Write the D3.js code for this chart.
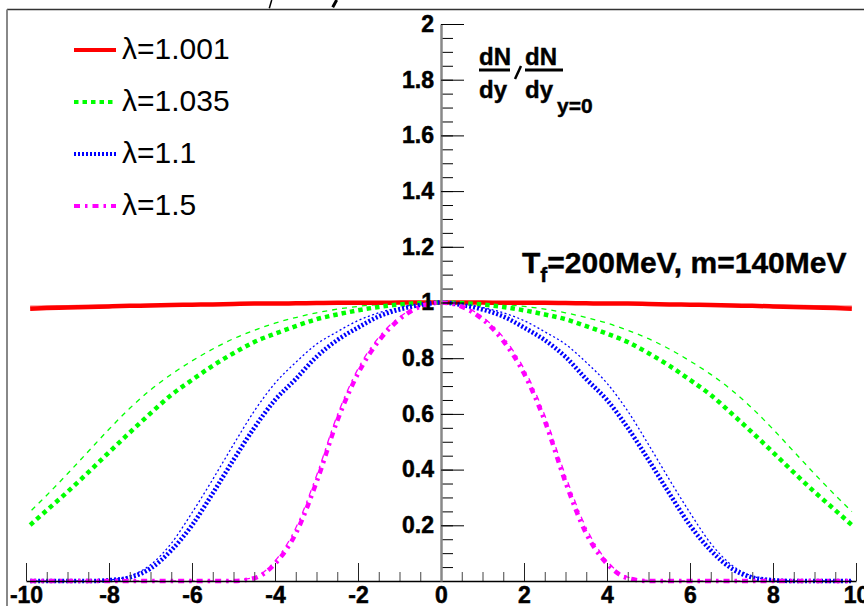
<!DOCTYPE html>
<html>
<head>
<meta charset="utf-8">
<script src="https://cdn.jsdelivr.net/npm/d3@7"></script>
<style>
  body { margin: 0; background: #fff; }
  svg { display: block; font-family: "Liberation Sans", Arial, sans-serif; }
  .tick text { font-family: "Liberation Sans", Arial, sans-serif; font-weight: bold; fill: #000; stroke: #000; stroke-width: 0.5px; }
  .heavy { stroke: #000; stroke-width: 0.4px; }
</style>
</head>
<body>
<svg width="864" height="606"></svg>
<script>
// rapidity points (curves drawn from -9.9 to 9.9)
const ys = [-9.9, -9.5, -9, -8.5, -8, -7.5, -7, -6.5, -6, -5.5, -5, -4.5, -4, -3.5, -3, -2.5, -2, -1.5, -1, -0.5,
    0, 0.5, 1, 1.5, 2, 2.5, 3, 3.5, 4, 4.5, 5, 5.5, 6, 6.5, 7, 7.5, 8, 8.5, 9, 9.5, 9.9];

const lambdas = ["1.001", "1.035", "1.1", "1.5"];

// thick curves
const red1 = [0.978, 0.980, 0.982, 0.984, 0.986, 0.988, 0.989, 0.991, 0.992, 0.993, 0.995, 0.996, 0.996, 0.997, 0.998, 0.999, 0.999, 0.999, 1, 1,
    1, 1, 1, 0.999, 0.999, 0.999, 0.998, 0.997, 0.996, 0.996, 0.995, 0.993, 0.992, 0.991, 0.989, 0.988, 0.986, 0.984, 0.982, 0.980, 0.978];
const green1 = [0.201, 0.254, 0.32, 0.39, 0.462, 0.533, 0.602, 0.668, 0.722, 0.773, 0.818, 0.858, 0.888, 0.915, 0.94, 0.957, 0.972, 0.984, 0.993, 0.998,
    1, 0.998, 0.993, 0.984, 0.972, 0.957, 0.94, 0.915, 0.888, 0.858, 0.818, 0.773, 0.722, 0.668, 0.602, 0.533, 0.462, 0.39, 0.32, 0.254, 0.201];
const blue1 = [0, 0, 0, 0, 0.003, 0.013, 0.045, 0.11, 0.2, 0.315, 0.435, 0.55, 0.65, 0.725, 0.805, 0.865, 0.91, 0.95, 0.975, 0.991,
    1, 0.991, 0.975, 0.95, 0.91, 0.865, 0.805, 0.725, 0.65, 0.55, 0.435, 0.315, 0.2, 0.11, 0.045, 0.013, 0.003, 0, 0, 0, 0];
const magenta1 = [0, 0, 0, 0, 0, 0, 0, 0, 0, 0, 0, 0.01, 0.062, 0.17, 0.355, 0.575, 0.745, 0.862, 0.94, 0.985,
    1, 0.985, 0.94, 0.862, 0.745, 0.575, 0.355, 0.17, 0.062, 0.01, 0, 0, 0, 0, 0, 0, 0, 0, 0, 0, 0];

// thin curves
const red2 = [0.987, 0.988, 0.989, 0.990, 0.991, 0.992, 0.993, 0.994, 0.995, 0.996, 0.997, 0.997, 0.998, 0.998, 0.999, 0.999, 1, 1, 1, 1,
    1, 1, 1, 1, 1, 0.999, 0.999, 0.998, 0.998, 0.997, 0.997, 0.996, 0.995, 0.994, 0.993, 0.992, 0.991, 0.990, 0.989, 0.988, 0.987];
const green2 = [0.249, 0.308, 0.385, 0.465, 0.545, 0.62, 0.686, 0.742, 0.79, 0.833, 0.87, 0.9, 0.926, 0.946, 0.963, 0.976, 0.986, 0.993, 0.997, 0.999,
    1, 0.999, 0.997, 0.993, 0.986, 0.976, 0.963, 0.946, 0.926, 0.9, 0.87, 0.833, 0.79, 0.742, 0.686, 0.62, 0.545, 0.465, 0.385, 0.308, 0.249];
const blue2 = [0, 0, 0, 0, 0.004, 0.018, 0.058, 0.135, 0.245, 0.365, 0.49, 0.61, 0.71, 0.785, 0.85, 0.895, 0.935, 0.963, 0.982, 0.995,
    1, 0.995, 0.982, 0.963, 0.935, 0.895, 0.85, 0.785, 0.71, 0.61, 0.49, 0.365, 0.245, 0.135, 0.058, 0.018, 0.004, 0, 0, 0, 0];
const magenta2 = [0, 0, 0, 0, 0, 0, 0, 0, 0, 0, 0.002, 0.014, 0.072, 0.19, 0.378, 0.595, 0.762, 0.875, 0.948, 0.988,
    1, 0.988, 0.948, 0.875, 0.762, 0.595, 0.378, 0.19, 0.072, 0.014, 0.002, 0, 0, 0, 0, 0, 0, 0, 0, 0, 0];

const svg = d3.select("svg");

const x = d3.scaleLinear().domain([-10, 10]).range([26, 856]);
const y = d3.scaleLinear().domain([0, 2]).range([581, 24]);

const styles = [
    {color: "#ff0000", thick: red1, thin: red2, dash: null, thinDash: null},
    {color: "#00ff00", thick: green1, thin: green2, dash: "4.5,4", thinDash: "5,5"},
    {color: "#0000ff", thick: blue1, thin: blue2, dash: "2,2", thinDash: "2,2.5"},
    {color: "#ff00ff", thick: magenta1, thin: magenta2, dash: "6,5,2.5,5", thinDash: "6,5,2.5,5"}
];

// frame
svg.append("line").attr("x1", 7).attr("x2", 864).attr("y1", 9.5).attr("y2", 9.5)
    .attr("stroke", "#333").attr("stroke-width", 1.5);
svg.append("line").attr("x1", 7).attr("x2", 7).attr("y1", 9.5).attr("y2", 606)
    .attr("stroke", "#888").attr("stroke-width", 2);

// bits of the cropped title above the frame
svg.append("path").attr("d", "M271.7,0L269.3,8.3").attr("stroke", "#000").attr("stroke-width", 1.5);
svg.append("path").attr("d", "M336.7,0L332.7,7.3").attr("stroke", "#000").attr("stroke-width", 3);

const line = d3.line()
    .x((d, i) => x(ys[i]))
    .y(d => y(d))
    .curve(d3.curveMonotoneX);

const curves = svg.append("g");

styles.forEach(s => {
    curves.append("path")
        .attr("d", line(s.thin))
        .attr("fill", "none")
        .attr("stroke", s.color)
        .attr("stroke-width", s.dash ? 1.3 : 1.2)
        .attr("stroke-opacity", s.dash ? 1 : 0.6)
        .attr("stroke-dasharray", s.thinDash)
        .attr("stroke-dashoffset", s.thinDash ? 8 : null);
});
styles.forEach(s => {
    curves.append("path")
        .attr("d", line(s.thick))
        .attr("fill", "none")
        .attr("stroke", s.color)
        .attr("stroke-width", 4.5)
        .attr("stroke-dasharray", s.dash);
});

// x axis
const xMinor = svg.append("g")
    .attr("transform", "translate(0," + y(0) + ")")
    .call(d3.axisBottom(x).tickValues(d3.range(-10, 10.01, 0.5)).tickSizeInner(-9).tickSizeOuter(0).tickFormat(""));
xMinor.select(".domain").remove();
xMinor.selectAll("line").attr("stroke", "#444");

const xAxis = svg.append("g")
    .attr("transform", "translate(0," + y(0) + ")")
    .call(d3.axisBottom(x).tickValues(d3.range(-10, 10.01, 2)).tickSizeInner(-18).tickSizeOuter(0)
        .tickPadding(6).tickFormat(d => String(d)));
xAxis.select(".domain").attr("stroke", "#000").attr("stroke-width", 1.5);
xAxis.selectAll("line").attr("stroke", "#222");
xAxis.selectAll("text").style("font-size", "23px");

// y axis at x = 0
const yMinor = svg.append("g")
    .attr("transform", "translate(" + x(0) + ",0)")
    .call(d3.axisLeft(y).tickValues(d3.range(0.05, 2, 0.05)).tickSizeInner(-12).tickSizeOuter(0).tickFormat(""));
yMinor.select(".domain").remove();
yMinor.selectAll("line").attr("stroke", "#000");

const yAxis = svg.append("g")
    .attr("transform", "translate(" + x(0) + ",0)")
    .call(d3.axisLeft(y).tickValues(d3.range(0.2, 2.01, 0.2)).tickSizeInner(-23).tickSizeOuter(0)
        .tickPadding(7).tickFormat(d => String(+d.toFixed(1))));
yAxis.select(".domain").attr("stroke", "#888").attr("stroke-width", 2.5);
yAxis.selectAll("line").attr("stroke", "#000");
yAxis.selectAll("text").style("font-size", "23px");

// legend
const legend = svg.append("g")
    .selectAll("g")
    .data(styles)
    .enter().append("g")
    .attr("transform", (d, i) => "translate(0," + (50 + i * 52) + ")");

legend.append("line")
    .attr("x1", 74).attr("x2", 116)
    .attr("stroke", d => d.color)
    .attr("stroke-width", 4)
    .attr("stroke-dasharray", d => d.dash);

legend.append("text")
    .attr("x", 122)
    .attr("y", 9)
    .style("font-size", "30px")
    .text((d, i) => "\u03bb=" + lambdas[i]);

// dN/dy ratio label
const ratio = svg.append("g").attr("class", "heavy").style("font-weight", "bold").style("font-size", "24px");
ratio.append("text").attr("x", 479).attr("y", 65).text("dN");
ratio.append("text").attr("x", 525).attr("y", 65).text("dN");
ratio.append("line").attr("x1", 479).attr("x2", 510).attr("y1", 70).attr("y2", 70)
    .attr("stroke", "#000").attr("stroke-width", 3);
ratio.append("line").attr("x1", 525).attr("x2", 563).attr("y1", 70).attr("y2", 70)
    .attr("stroke", "#000").attr("stroke-width", 3);
ratio.append("line").attr("x1", 521).attr("x2", 515).attr("y1", 66).attr("y2", 79)
    .attr("stroke", "#000").attr("stroke-width", 2.5);
ratio.append("text").attr("x", 479).attr("y", 98).text("dy");
ratio.append("text").attr("x", 525).attr("y", 98).text("dy");
ratio.append("text").attr("x", 557).attr("y", 113).style("font-size", "21px").text("y=0");

// parameters
const par = svg.append("text")
    .attr("class", "heavy")
    .attr("x", 522).attr("y", 273)
    .style("font-weight", "bold").style("font-size", "30px");
par.append("tspan").text("T");
par.append("tspan").attr("dy", 9).style("font-size", "21px").text("f");
par.append("tspan").attr("dy", -9).text("=200MeV, m=140MeV");
</script>
</body>
</html>
